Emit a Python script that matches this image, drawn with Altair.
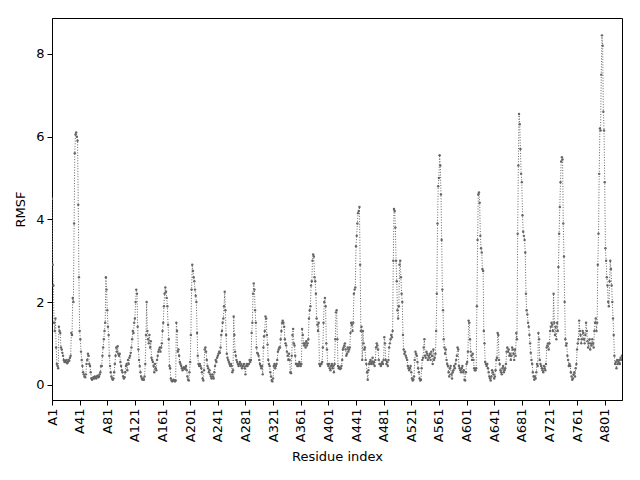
import altair as alt
import pandas as pd

# RMSF per residue (index 0 = A1)
rmsf = [
    4.5, 2.9, 2.4, 1.5, 1.3, 1.6, 0.9, 0.5, 0.45, 0.4,
    1.4, 1.3, 1.25, 0.9, 0.85, 0.77, 0.7, 0.6, 0.55, 0.58,
    0.55, 0.6, 0.52, 0.55, 0.6, 0.58, 0.65, 0.7, 1.25, 1.2,
    2.1, 2.0, 3.9, 5.6, 6.05, 6.1, 6.0, 5.9, 4.35, 2.6,
    1.3, 1.1, 0.8, 0.6, 0.45, 0.3, 0.25, 0.2, 0.18, 0.25,
    0.5, 0.6, 0.75, 0.7, 0.5, 0.45, 0.3, 0.15, 0.12, 0.15,
    0.18, 0.15, 0.2, 0.18, 0.15, 0.2, 0.22, 0.18, 0.2, 0.25,
    0.3, 0.45, 0.45, 0.7, 0.9, 1.1, 1.3, 1.5, 2.6, 2.3,
    1.8, 1.4, 1.2, 0.7, 0.45, 0.3, 0.2, 0.15, 0.12, 0.15,
    0.3, 0.5, 0.7, 0.9, 0.8, 0.93, 0.75, 0.7, 0.75, 0.55,
    0.45, 0.35, 0.3, 0.2, 0.15, 0.18, 0.3, 0.45, 0.5, 0.35,
    0.6, 0.5, 0.65, 0.7, 0.77, 0.9, 1.1, 1.3, 1.25, 1.5,
    1.6, 2.0, 2.3, 2.2, 1.4, 0.85, 0.6, 0.45, 0.3, 0.2,
    0.15, 0.12, 0.15, 0.12, 0.2, 0.5, 1.2, 2.0, 1.3, 1.1,
    1.0, 1.2, 0.9, 1.05, 0.65, 0.6, 0.55, 0.45, 0.3, 0.5,
    0.4, 0.35, 0.6, 0.7, 0.8, 0.85, 0.9, 0.8, 0.9, 1.0,
    1.3, 1.5, 1.9, 2.2, 2.35, 2.25, 2.1, 1.9, 1.45, 1.1,
    0.45, 0.4, 0.15, 0.1, 0.08, 0.1, 0.12, 0.1, 0.08, 0.1,
    1.5, 1.3, 0.8, 0.85, 0.7, 0.55, 0.5, 0.45, 0.4, 0.35,
    0.4, 0.42, 0.38, 0.4, 0.45, 0.35, 0.2, 0.12, 0.1, 0.3,
    0.55, 1.2, 2.3, 2.9, 2.75, 2.6, 2.5, 2.3, 2.15, 2.0,
    1.25, 0.7, 0.5, 0.45, 0.5, 0.45, 0.4, 0.3, 0.15, 0.1,
    0.35, 0.85, 0.9, 0.8, 0.6, 0.45, 0.4, 0.3, 0.35, 0.25,
    0.2, 0.15, 0.25, 0.2, 0.15, 0.3, 0.45, 0.6, 0.55, 0.65,
    0.7, 0.75, 0.8, 0.77, 0.9, 1.2, 1.3, 1.5, 1.6, 1.9,
    2.25, 1.8, 1.2, 0.75, 0.65, 0.6, 0.55, 0.5, 0.45, 0.5,
    0.45, 0.3, 0.35, 1.65, 1.2, 0.8, 0.7, 0.6, 0.55, 0.5,
    0.45, 0.5, 0.55, 0.45, 0.5, 0.4, 0.45, 0.45, 0.5, 0.4,
    0.25, 0.45, 0.5, 0.45, 0.5, 0.5, 0.6, 0.55, 0.6, 1.25,
    1.5, 2.2, 2.45, 2.3, 1.8, 1.5, 0.9, 0.77, 0.75, 0.7,
    0.6, 0.5, 0.45, 0.4, 0.45, 0.25, 0.9, 1.17, 1.3, 1.65,
    1.6, 1.2, 0.97, 0.6, 0.5, 0.45, 0.3, 0.2, 0.1, 0.08,
    0.15, 0.45, 0.5, 0.4, 0.45, 0.5, 0.6, 0.8, 0.85, 0.9,
    0.9, 1.1, 1.3, 1.5, 1.55, 1.5, 1.4, 1.1, 1.0, 0.95,
    0.8, 0.7, 0.6, 0.75, 0.6, 0.3, 0.28, 0.7, 1.2, 1.35,
    1.0, 0.95, 0.7, 0.5, 0.5, 0.45, 0.5, 0.45, 0.55, 0.5,
    0.45, 0.5, 1.35, 1.2, 1.0, 0.95, 1.0, 0.9, 1.05, 0.95,
    1.0, 1.1, 1.6, 1.8, 1.9, 2.4, 2.5, 3.0, 3.15, 3.1,
    2.6, 2.5, 2.2, 1.6, 1.45, 1.3, 1.5, 0.5, 0.45, 0.5,
    0.5, 0.55, 0.9, 1.5, 2.0, 2.1, 1.9, 1.0, 0.85, 0.5,
    0.45, 0.5, 0.4, 0.35, 0.45, 0.5, 0.4, 0.45, 0.3, 0.5,
    1.1, 1.75, 1.8, 1.1, 0.45, 0.4, 0.42, 0.38, 0.4, 0.45,
    0.6, 0.85, 0.9, 0.95, 1.0, 0.85, 0.7, 0.75, 0.9, 0.8,
    0.85, 0.9, 1.25, 1.5, 1.45, 1.3, 1.5, 2.2, 2.3, 2.35,
    3.35, 3.6, 3.9, 4.15, 4.2, 4.3, 2.9, 1.3, 1.4, 0.6,
    1.3, 1.0, 0.85, 0.9, 0.6, 0.5, 0.3, 0.12, 0.35, 0.5,
    0.55, 0.6, 0.5, 0.55, 0.65, 0.5, 0.55, 0.45, 0.6, 0.9,
    1.0, 0.95, 0.85, 0.6, 0.5, 0.5, 0.45, 0.5, 0.55, 0.5,
    0.6, 1.15, 1.0, 0.6, 0.5, 0.55, 0.45, 0.6, 0.9, 1.0,
    1.1, 1.2, 1.15, 1.3, 3.0, 4.25, 4.2, 3.8, 3.0, 2.5,
    1.8, 1.6, 1.9, 2.9, 3.0, 2.6, 2.2, 2.0, 1.2, 0.85,
    0.75, 0.8, 0.7, 0.65, 0.6, 0.45, 0.4, 0.35, 0.4, 0.45,
    0.3, 0.15, 0.1, 0.12, 0.2, 0.6, 0.8, 0.75, 0.7, 0.55,
    0.4, 0.3, 0.15, 0.1, 0.12, 0.4, 0.6, 0.65, 0.9, 1.1,
    0.7, 0.65, 0.8, 0.75, 0.6, 0.7, 0.65, 0.75, 0.6, 0.8,
    0.7, 0.5, 0.85, 0.6, 0.65, 0.75, 1.3, 2.2, 3.9, 4.8,
    5.0, 5.55, 5.3, 4.6, 3.5, 2.3, 1.8, 1.1, 0.9, 0.75,
    0.85, 0.6, 0.5, 0.45, 0.3, 0.2, 0.4, 0.45, 0.25, 0.15,
    0.3, 0.35, 0.45, 0.4, 0.5, 0.6, 0.7, 0.9, 0.85, 0.45,
    0.4, 0.35, 0.3, 0.4, 0.45, 0.3, 0.35, 0.12, 0.1, 0.3,
    0.5, 0.55, 0.8, 1.55, 1.5, 1.1, 0.8, 0.7, 0.6, 0.75,
    0.6, 0.4, 0.35, 0.35, 0.4, 1.9, 3.5, 4.6, 4.65, 4.4,
    3.6, 3.3, 3.2, 2.8, 2.75, 1.3, 1.0, 0.55, 0.5, 0.45,
    0.5, 0.4, 0.3, 0.2, 0.15, 0.1, 0.2, 0.35, 0.3, 0.25,
    0.15, 0.2, 0.35, 0.6, 0.65, 1.25, 1.2, 0.6, 0.5, 0.35,
    0.3, 0.25, 0.4, 0.45, 0.3, 0.35, 0.4, 0.5, 0.8, 0.9,
    0.8, 0.85, 0.7, 0.75, 0.6, 0.7, 0.9, 0.85, 0.75, 0.6,
    0.85, 0.7, 1.25, 1.1, 3.65, 5.3, 6.55, 6.3, 5.7, 5.1,
    4.9, 4.1, 3.7, 3.6, 3.5, 3.2, 2.2, 1.8, 1.7, 1.5,
    1.4, 1.2, 1.0, 0.77, 0.6, 0.5, 0.3, 0.2, 0.12, 0.2,
    0.15, 0.3, 0.5, 0.45, 1.25, 1.1, 0.6, 0.5, 0.45, 0.4,
    0.35, 0.3, 0.45, 0.4, 0.35, 0.5, 0.9, 0.95, 1.0, 0.85,
    1.0, 1.3, 1.4, 1.5, 1.45, 1.3, 2.2, 1.5, 1.2, 1.4,
    1.1, 1.5, 1.3, 2.85, 3.65, 4.3, 4.9, 5.4, 5.5, 5.45,
    3.9, 3.1, 2.0, 1.1, 0.95, 1.0, 0.7, 0.6, 0.45, 0.5,
    0.45, 0.3, 0.2, 0.12, 0.15, 0.25, 0.3, 0.2, 0.4, 0.5,
    0.85, 1.0, 1.1, 1.55, 1.3, 1.2, 1.0, 1.1, 1.3, 1.25,
    1.1, 1.0, 1.2, 1.5, 1.3, 1.05, 0.9, 1.0, 1.1, 0.85,
    1.0, 0.95, 1.1, 1.0, 0.9, 1.3, 1.5, 1.6, 1.3, 1.5,
    2.9, 3.65, 5.1, 6.2, 6.15, 7.5, 8.45, 8.2, 6.6, 6.15,
    4.9, 3.3, 3.0, 2.6, 2.4, 2.0, 1.9, 2.5, 3.0, 2.8,
    2.4, 2.0, 1.6, 1.2, 0.7, 0.5, 0.55, 0.4, 0.6, 0.5,
    0.55, 0.6, 0.5, 0.65, 0.6, 0.7,
]
tick_positions = list(range(0, 801, 40))

df = pd.DataFrame({"idx": list(range(len(rmsf))), "rmsf": rmsf})

FONT = "DejaVu Sans"
COLOR = "#666666"

x = alt.X("idx:Q",
          scale=alt.Scale(domain=[0, 825], nice=False, zero=False),
          axis=alt.Axis(title="Residue index", values=tick_positions,
                        labelExpr="'A' + (datum.value + 1)",
                        labelAngle=270, grid=False, tickSize=5,
                        labelPadding=3, titlePadding=9))
y = alt.Y("rmsf:Q",
          scale=alt.Scale(domain=[-0.37, 8.87], nice=False, zero=False),
          axis=alt.Axis(title="RMSF", values=[0, 2, 4, 6, 8], grid=False,
                        tickSize=5, labelPadding=3, titlePadding=8))

base = alt.Chart(df)
line = base.mark_line(color=COLOR, strokeWidth=1, strokeDash=[1, 1.65],
                      clip=True).encode(x=x, y=y)
pts = base.mark_point(color=COLOR, filled=True, size=6, opacity=1,
                      clip=True).encode(x=x, y=y)

chart = (line + pts).properties(
    width=570, height=382,
    autosize=alt.AutoSizeParams(type="none"),
    padding={"left": 44, "top": 10, "right": 10, "bottom": 70},
).configure_view(
    stroke="black", strokeWidth=1
).configure_axis(
    domainColor="black", tickColor="black", labelColor="black",
    titleColor="black", labelFont=FONT, titleFont=FONT,
    labelFontSize=13, titleFontSize=13, titleFontWeight="normal",
    domainWidth=1, tickWidth=1
)

chart.save("out.html", embed_options={"renderer": "svg", "actions": False})
